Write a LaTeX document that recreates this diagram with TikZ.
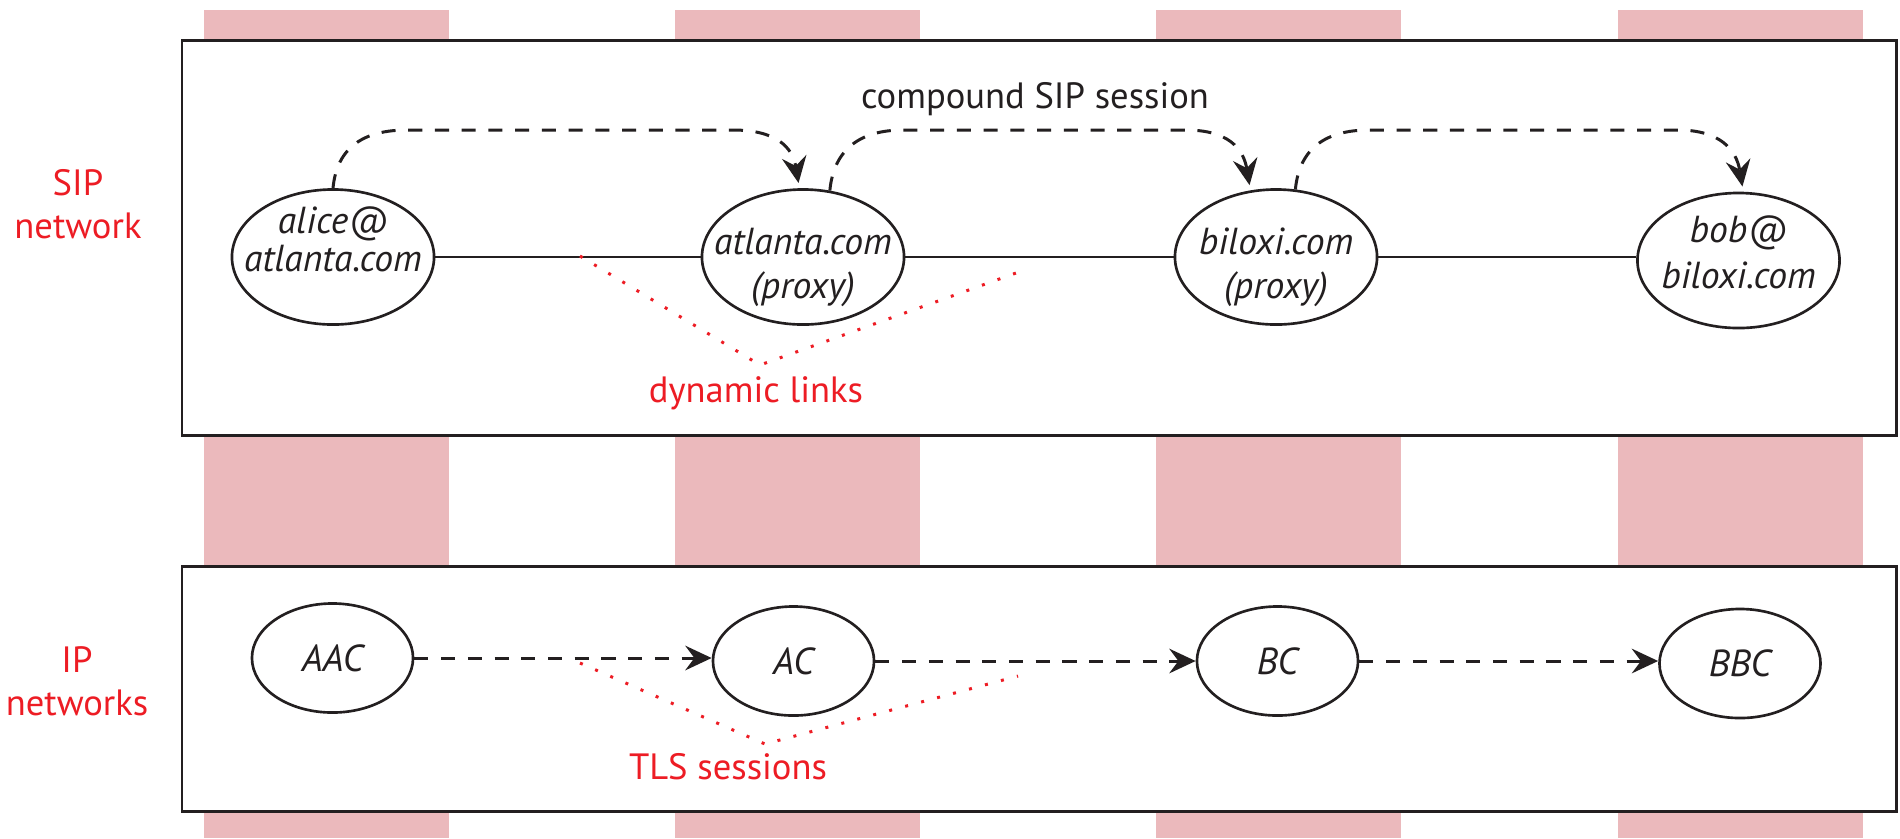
\documentclass[tikz,border=0pt]{standalone}
\usepackage{fontspec}
\setmainfont{PT Sans}
\usetikzlibrary{shapes.geometric,arrows.meta}
\definecolor{ink}{HTML}{231F20}
\definecolor{labred}{HTML}{ED1C24}
\definecolor{band}{HTML}{EBB9BC}
\newcommand\hostfont[1]{\fontsize{10.7}{#1}\selectfont\itshape}
\newcommand\redfont{\fontsize{10.4}{12.3}\selectfont}
\newcommand\capfont{\fontsize{10.4}{12}\selectfont}
\begin{document}
\begin{tikzpicture}[x=0.01cm,y=-0.01cm,
  panel/.style={draw=ink, line width=0.85pt, fill=white},
  sipnode/.style={ellipse, draw=ink, line width=0.75pt, fill=white,
    minimum width=2.02cm, minimum height=1.35cm, inner sep=0pt},
  ipnode/.style={ellipse, draw=ink, line width=0.75pt, fill=white,
    minimum width=1.61cm, minimum height=1.09cm, inner sep=0pt,
    font={\hostfont{12}}, text=ink},
  hosttxt/.style={align=center, inner sep=0pt, text=ink},
  link/.style={draw=ink, line width=0.8pt},
  sess/.style={draw=ink, line width=0.85pt, dash pattern=on 4pt off 3.6pt,
    -{Stealth[length=7.5pt,width=7pt,inset=2.6pt]}, shorten >=1.5pt},
  tls/.style={sess, shorten >=0pt},
  redlab/.style={text=labred, font=\redfont, align=center, inner sep=0pt},
  dots/.style={draw=labred, line width=0.85pt, dash pattern=on 0.85pt off 3.85pt}
]
\fill[white] (0,0) rectangle (1900,838);
\useasboundingbox (0,0) rectangle (1900,838);

% vertical bands behind the two panels
\foreach \xa in {204,675,1156,1618}
  \fill[band] (\xa,10) rectangle ++(245,828);

% panels
\draw[panel] (182,40) rectangle (1896,435);
\draw[panel] (182,566) rectangle (1896,811);

% SIP layer
\node[sipnode, label={[hosttxt,font={\hostfont{8.8}},yshift=5pt]center:{alice@\\atlanta.com}}] (alice) at (333,257) {};
\node[sipnode, label={[hosttxt,font={\hostfont{12.4}},yshift=-2.9pt]center:{atlanta.com\\(proxy)}}] (atl) at (803,257) {};
\node[sipnode, label={[hosttxt,font={\hostfont{12.4}},yshift=-2.9pt]center:{biloxi.com\\(proxy)}}] (bil) at (1276,257) {};
\node[sipnode, label={[hosttxt,font={\hostfont{13.3}},yshift=2.3pt]center:{bob@\\biloxi.com}}] (bob) at (1738.5,260.5) {};

\draw[link] (alice) -- (atl);
\draw[link] (atl) -- (bil);
\draw[link] (bil.east) -- (bil.east -| bob.west);

% compound session hops
\coordinate (h1a) at (407,130); \coordinate (h1b) at (733,130);
\coordinate (h2a) at (903,130); \coordinate (h2b) at (1186,130);
\coordinate (h3a) at (1369,130); \coordinate (h3b) at (1678,130);
\draw[sess] (alice.north) .. controls +(4,-42) and +(-42,0) .. (h1a) -- (h1b)
  .. controls +(42,0) and +(-7,-42) .. (atl.93);
\draw[sess] (atl.68) .. controls +(4,-42) and +(-42,0) .. (h2a) -- (h2b)
  .. controls +(42,0) and +(-7,-42) .. (bil.111);
\draw[sess] (bil.74) .. controls +(4,-42) and +(-42,0) .. (h3a) -- (h3b)
  .. controls +(42,0) and +(-7,-42) .. (bob.86);
\node[anchor=base, text=ink, font=\capfont, inner sep=0pt] (cmp) at (1035,108) {compound SIP session};

% IP layer
\node[ipnode] (aac) at (332.5,658) {AAC};
\node[ipnode] (ac) at (793.5,661) {AC};
\node[ipnode] (bc) at (1277.5,661) {BC};
\node[ipnode] (bbc) at (1740,663.5) {BBC};
\draw[tls] (aac.east) -- (aac.east -| ac.west);
\draw[tls] (ac.east) -- (ac.east -| bc.west);
\draw[tls] (bc.east) -- (bc.east -| bbc.west);

% layer names
\node[redlab] (sipnet) at (78,204) {SIP\\network};
\node[redlab] (ipnet) at (77,681) {IP\\networks};

% annotations
\node[redlab, anchor=base] (dynl) at (756,402) {dynamic links};
\node[redlab, anchor=base] (tlsl) at (728,779) {TLS sessions};
\coordinate (d1) at (580,256); \coordinate (dv) at (760,365); \coordinate (d2) at (1016,273);
\draw[dots] (d1) -- (dv) -- (d2);
\coordinate (t1) at (580,663); \coordinate (tv) at (765,744); \coordinate (t2) at (1018,676);
\draw[dots] (t1) -- (tv) -- (t2);
\end{tikzpicture}
\end{document}
